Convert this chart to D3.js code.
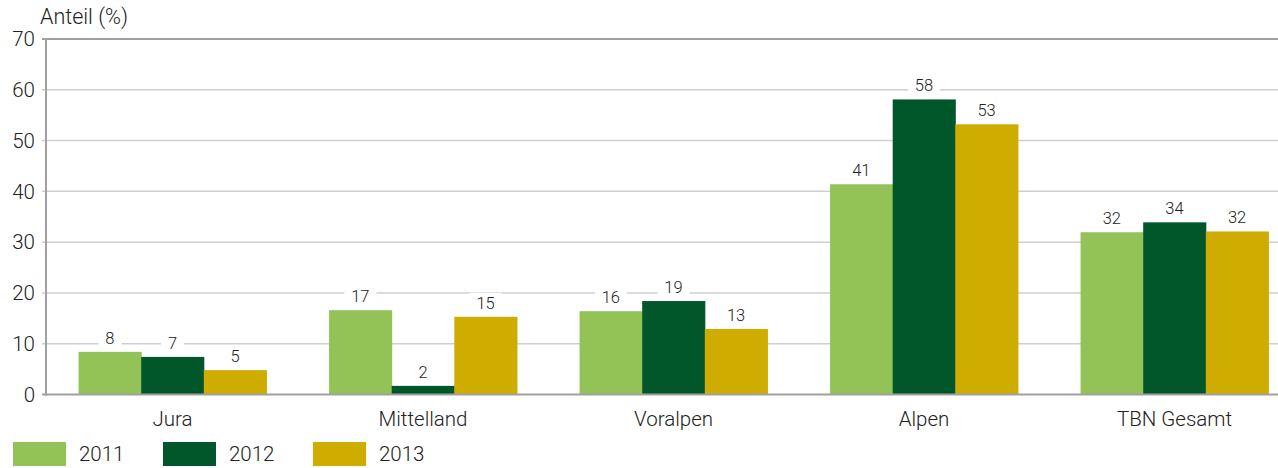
<!DOCTYPE html>
<html>
<head>
<meta charset="utf-8">
<script src="https://cdn.jsdelivr.net/npm/d3@7"></script>
<style>
  body { margin: 0; background: #fff; }
  svg { display: block; font-family: Roboto, "Noto Sans", sans-serif; }
</style>
</head>
<body>
<div id="chart"></div>
<script>
// Chart data
var regions = ["Jura", "Mittelland", "Voralpen", "Alpen", "TBN Gesamt"];
var years = ["2011", "2012", "2013"];
var values2011 = [8.4, 16.6, 16.4, 41.4, 31.95];
var values2012 = [7.4, 1.7, 18.4, 58.1, 33.9];
var values2013 = [4.8, 15.3, 12.9, 53.2, 32.1];
var labels2011 = ["8", "17", "16", "41", "32"];
var labels2012 = ["7", "2", "19", "58", "34"];
var labels2013 = ["5", "15", "13", "53", "32"];
var yTicks = [0, 10, 20, 30, 40, 50, 60, 70];
var colors = ["#93c356", "#01572a", "#cfac00"];

var width = 1278;
var height = 468;

var svg = d3.select("#chart")
  .append("svg")
  .attr("width", width)
  .attr("height", height);

// Scales
var x = d3.scaleBand()
  .domain(regions)
  .range([46, 1301])
  .paddingInner(0.25)
  .paddingOuter(0.13);

var xInner = d3.scaleBand()
  .domain(years)
  .range([0, x.bandwidth()]);

var y = d3.scaleLinear()
  .domain([0, 70])
  .range([394.5, 39]);

var color = d3.scaleOrdinal().domain(years).range(colors);

// Gridlines
svg.append("g")
  .attr("class", "grid")
  .selectAll("line")
  .data(yTicks.slice(1, -1))
  .enter().append("line")
  .attr("x1", 42)
  .attr("x2", width)
  .attr("y1", function(d) { return y(d); })
  .attr("y2", function(d) { return y(d); })
  .style("stroke", "#cfcfcf")
  .style("stroke-width", 1.5);

// top line
svg.append("line")
  .attr("x1", 42).attr("x2", width)
  .attr("y1", y(70)).attr("y2", y(70))
  .style("stroke", "#a0a0a0")
  .style("stroke-width", 2);

// y tick labels
svg.append("g")
  .selectAll("text")
  .data(yTicks)
  .enter().append("text")
  .attr("x", 35)
  .attr("y", function(d) { return y(d); })
  .attr("dy", "0.35em")
  .attr("text-anchor", "end")
  .style("font-size", "20.5px")
  .style("font-weight", 300)
  .style("fill", "#222")
  .text(function(d) { return d; });

svg.append("text")
  .attr("x", 40)
  .attr("y", 24)
  .style("font-size", "21.5px")
  .style("font-weight", 300)
  .style("fill", "#222")
  .text("Anteil (%)");

// Series table built from the arrays
var series = [
  { year: "2011", values: values2011, labels: labels2011 },
  { year: "2012", values: values2012, labels: labels2012 },
  { year: "2013", values: values2013, labels: labels2013 }
];

var rows = [];
series.forEach(function(s) {
  regions.forEach(function(r, i) {
    rows.push({ region: r, year: s.year, value: s.values[i], label: s.labels[i] });
  });
});

// Bars
svg.append("g")
  .attr("class", "bars")
  .selectAll("rect")
  .data(rows)
  .enter().append("rect")
  .attr("x", function(d) { return x(d.region) + xInner(d.year); })
  .attr("y", function(d) { return y(d.value); })
  .attr("width", xInner.bandwidth() + 0.5)
  .attr("height", function(d) { return y(0) - y(d.value); })
  .style("fill", function(d) { return color(d.year); });

// Value labels with white background
var lbl = svg.append("g")
  .attr("class", "labels")
  .selectAll("g")
  .data(rows)
  .enter().append("g")
  .attr("transform", function(d) {
    return "translate(" + (x(d.region) + xInner(d.year) + xInner.bandwidth() / 2) + "," + (y(d.value) - 14) + ")";
  });

lbl.append("rect")
  .attr("x", function(d) { return -(d.label.length * 4.5 + 7); })
  .attr("y", -10)
  .attr("width", function(d) { return d.label.length * 9 + 14; })
  .attr("height", 20)
  .style("fill", "#fff");

lbl.append("text")
  .attr("text-anchor", "middle")
  .attr("dy", "0.35em")
  .style("font-size", "16.5px")
  .style("font-weight", 300)
  .style("fill", "#222")
  .text(function(d) { return d.label; });

// Axis lines
svg.append("line")
  .attr("x1", 46).attr("x2", 46)
  .attr("y1", y(70) - 1).attr("y2", y(0) + 1)
  .style("stroke", "#a0a0a0")
  .style("stroke-width", 2);

svg.append("line")
  .attr("x1", 42).attr("x2", width)
  .attr("y1", y(0)).attr("y2", y(0))
  .style("stroke", "#a0a0a0")
  .style("stroke-width", 2);

// Category labels
svg.append("g")
  .selectAll("text")
  .data(regions)
  .enter().append("text")
  .attr("x", function(d) { return x(d) + x.bandwidth() / 2; })
  .attr("y", 426)
  .attr("text-anchor", "middle")
  .style("font-size", "20.5px")
  .style("font-weight", 300)
  .style("fill", "#222")
  .text(function(d) { return d; });

// Legend
var legend = svg.append("g")
  .attr("class", "legend")
  .selectAll("g")
  .data(years)
  .enter().append("g")
  .attr("transform", function(d, i) { return "translate(" + (13 + i * 150) + ",442)"; });

legend.append("rect")
  .attr("width", 53)
  .attr("height", 24)
  .style("fill", function(d) { return color(d); });

legend.append("text")
  .attr("x", 66)
  .attr("y", 12)
  .attr("dy", "0.35em")
  .style("font-size", "20.5px")
  .style("font-weight", 300)
  .style("fill", "#222")
  .text(function(d) { return d; });
</script>
</body>
</html>
